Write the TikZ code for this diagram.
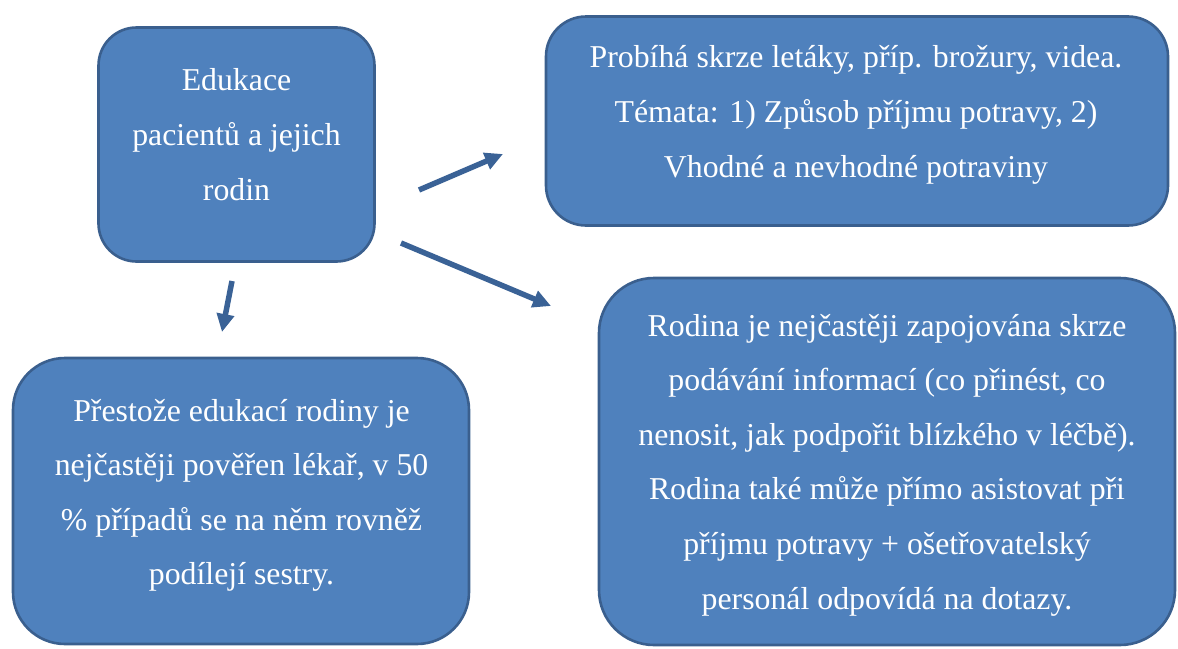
\documentclass[tikz,border=0pt]{standalone}
\usepackage{fontspec}
\setmainfont{Liberation Serif}
\usetikzlibrary{arrows.meta}
\definecolor{boxfill}{HTML}{4F81BD}
\definecolor{boxline}{HTML}{3A5F8E}
\definecolor{arrowcol}{HTML}{3A6296}
\tikzset{
  panel/.style={draw=boxline, fill=boxfill, line width=2.6pt, inner sep=0pt},
  % fixed first-line height and last-line depth keep the baselines predictable
  paneltext/.style={text=white, align=center, inner sep=0pt,
    font=\fontsize{31.8pt}{54.6pt}\selectfont,
    execute at begin node={\rule{0pt}{25pt}},
    execute at end node={\rule[-8pt]{0pt}{8pt}}},
  flow/.style={draw=arrowcol, line width=5.5pt,
    -{Triangle[length=18pt,width=17pt]}}
}
\begin{document}
\begin{tikzpicture}[x=1pt,y=-1pt]
\useasboundingbox (0,0) rectangle (1178,648);

% rounded panels
\node[panel, minimum width=276pt, minimum height=234pt, rounded corners=38pt]
  (edu) at (236.5,144.5) {};
\node[panel, minimum width=622pt, minimum height=209pt, rounded corners=40pt]
  (media) at (857,121) {};
\node[panel, minimum width=456pt, minimum height=286pt, rounded corners=52pt]
  (nurse) at (241,501) {};
\node[panel, minimum width=576pt, minimum height=367pt, rounded corners=55pt]
  (family) at (887,461.5) {};

% panel texts
\node[paneltext] (edutext) at (236.5,138.5) {Edukace\\pacientů a jejich\\rodin};
\node[paneltext] (mediatext) at (856,115.5) {Probíhá skrze letáky, příp. brožury, videa.\\Témata: 1) Způsob příjmu potravy, 2)\\Vhodné a nevhodné potraviny};
\node[paneltext] (nursetext) at (241.5,496) {Přestože edukací rodiny je\\nejčastěji pověřen lékař, v 50\\\% případů se na něm rovněž\\podílejí sestry.};
\node[paneltext] (familytext) at (887,465.5) {Rodina je nejčastěji zapojována skrze\\podávání informací (co přinést, co\\nenosit, jak podpořit blízkého v léčbě).\\Rodina také může přímo asistovat při\\příjmu potravy + ošetřovatelský\\personál odpovídá na dotazy.};

% connectors
\coordinate (a1s) at (419,190);
\coordinate (a1e) at (503,154);
\coordinate (a2s) at (401,243);
\coordinate (a2e) at (551,306);
\coordinate (a3s) at (232,281);
\coordinate (a3e) at (222,332);
\draw[flow] (a1s) -- (a1e);
\draw[flow] (a2s) -- (a2e);
\draw[flow] (a3s) -- (a3e);
\end{tikzpicture}
\end{document}
